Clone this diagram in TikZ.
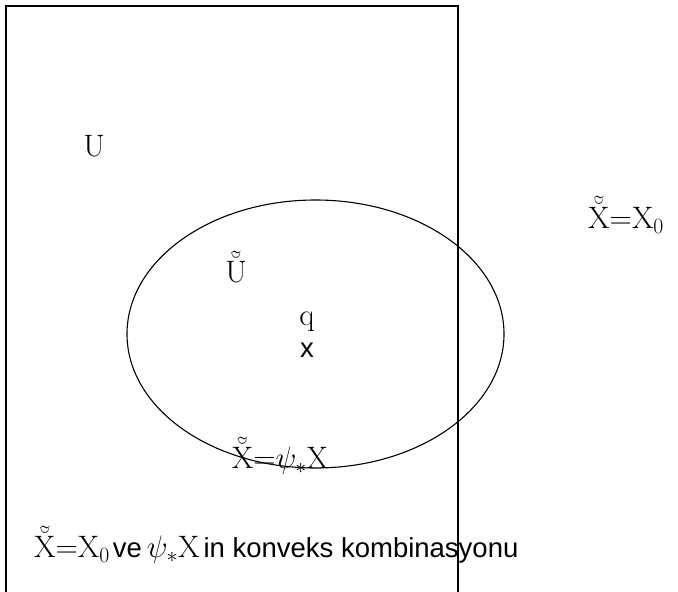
\RequirePackage{fix-cm}
\documentclass[tikz,border=0pt]{standalone}
\usepackage{amsmath}
\usepackage{amssymb}
\usepackage{fontspec}
\setsansfont{Liberation Sans}
\usepackage{tikz}
\usetikzlibrary{positioning}

% breve with a tilde laid just above it
\newcommand{\bacc}[1]{\text{\ooalign{$\breve{#1}$\cr\hidewidth\raisebox{0.12em}{$\tilde{\phantom{#1}}$}\hidewidth\cr}}}
\newcommand{\bX}{\bacc{\mathrm{X}}}
\newcommand{\bU}{\bacc{\mathrm{U}}}
\newcommand{\sftxt}[1]{{\fontsize{27.5}{30}\selectfont\sffamily #1}}

\begin{document}
\begin{tikzpicture}[
    x=1pt, y=-1pt,
    lbl/.style={inner sep=0pt, font=\fontsize{31}{34}\selectfont},
    sanslbl/.style={inner sep=0pt, font=\fontsize{27.5}{30}\selectfont\sffamily},
]
    \useasboundingbox (0,0) rectangle (678,592);
    % outer region
    \draw[line width=1.6pt] (6,6) rectangle (458,610);
    % neighbourhood of q
    \draw[line width=1.1pt] (315.5,334) ellipse [x radius=188.5, y radius=134];

    % labels
    \node[lbl] (uset) at (94,146) {$\mathrm{U}$};
    \node[lbl] (uhat) at (236,268) {$\bU$};
    \node[lbl] (qlbl) at (307,322) {$\mathrm{q}$};
    \node[sanslbl] (qpt) at (307,350) {x};
    \node[lbl] (inner) at (280,457) {$\bX{=}\psi_*\mathrm{X}$};
    \node[lbl, anchor=west] (outer) at (588,216) {$\bX{=}\mathrm{X}_0$};
    \node[lbl, anchor=west] (comb) at (34,546) {$\bX{=}\mathrm{X}_0$\hspace{3pt}\sftxt{ve}\hspace{5pt}$\psi_*\mathrm{X}$\hspace{4pt}\sftxt{in konveks kombinasyonu}};
\end{tikzpicture}
\end{document}
